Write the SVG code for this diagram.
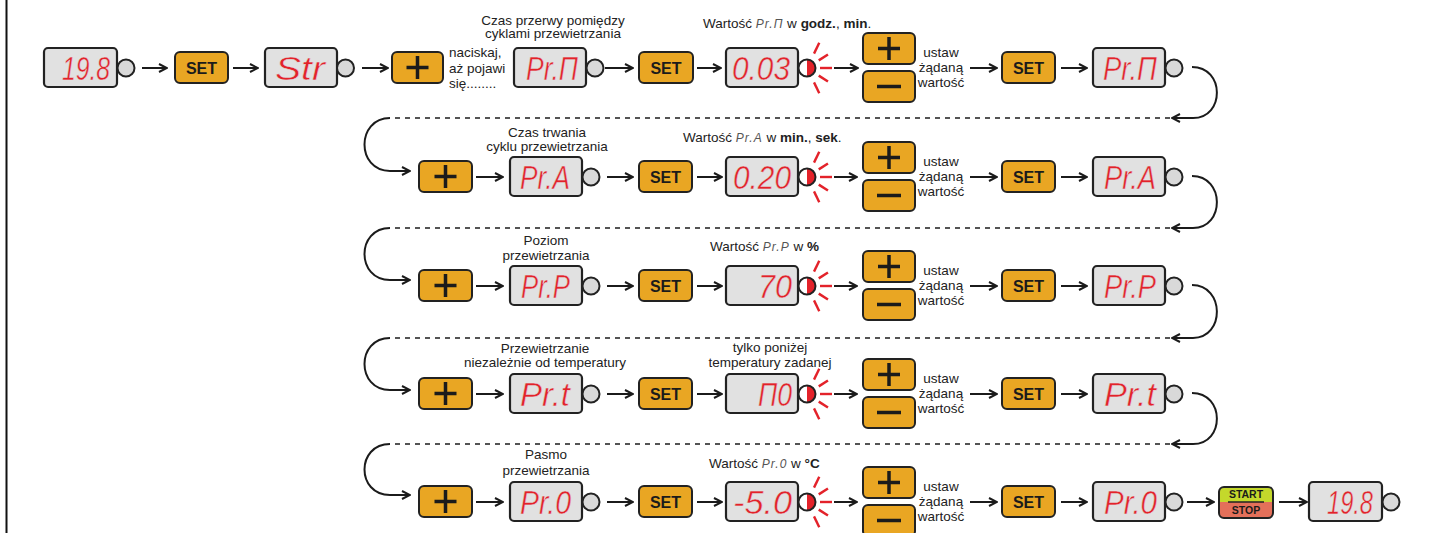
<svg xmlns="http://www.w3.org/2000/svg" xmlns:xlink="http://www.w3.org/1999/xlink" width="1430" height="533" viewBox="0 0 1430 533">
<style>
.disp{fill:#e1e1e1;stroke:#222;stroke-width:2.2}
.dot{fill:#d9d9d9;stroke:#222;stroke-width:2}
.btn{fill:#e9a623;stroke:#222;stroke-width:2}
.seg{font-family:"Liberation Sans",Arial,sans-serif;font-style:italic;font-size:34px;fill:#e3222a;stroke:#e1e1e1;stroke-width:0.5}
.set{font-family:"Liberation Sans",Arial,sans-serif;font-weight:bold;font-size:16px;fill:#1b1b1b;text-anchor:middle}
.lbl{font-family:"Liberation Sans",Arial,sans-serif;font-size:13.5px;fill:#222}
.mid{text-anchor:middle}
.ls{font-style:italic;fill:#555;font-size:12px;letter-spacing:1px}
.b{font-weight:bold}
.sym{stroke:#1b1b1b;stroke-width:3.5;fill:none}
.con{stroke:#1b1b1b;stroke-width:2;fill:none;marker-end:url(#ah)}
.dash{stroke:#1b1b1b;stroke-width:1.5;stroke-dasharray:5 5;fill:none}
.ray{stroke:#e3222a;stroke-width:2.4}
.ss{font-family:"Liberation Sans",Arial,sans-serif;font-weight:bold;font-size:10.5px;fill:#1b1b1b;text-anchor:middle}
</style>
<defs>
<marker id="ah" markerWidth="10" markerHeight="10" refX="9" refY="5" orient="auto" markerUnits="userSpaceOnUse">
<path d="M1,1 L9,5 L1,9" fill="none" stroke="#1b1b1b" stroke-width="2"/>
</marker>
<g id="led">
<circle r="8.5" fill="#fff"/>
<path d="M0,-8.5 A8.5,8.5 0 0 1 0,8.5 Z" fill="#e3222a"/>
<circle r="8.5" fill="none" stroke="#222" stroke-width="2"/>
<line class="ray" x1="13" y1="0" x2="25" y2="0"/>
<line class="ray" x1="14" y1="0" x2="25" y2="0" transform="rotate(-33)"/>
<line class="ray" x1="14" y1="0" x2="25" y2="0" transform="rotate(33)"/>
<line class="ray" x1="16" y1="0" x2="28" y2="0" transform="rotate(-64)"/>
<line class="ray" x1="16" y1="0" x2="28" y2="0" transform="rotate(64)"/>
</g>
<g id="plus"><path class="sym" d="M-11,0 H11 M0,-11.5 V11.5"/></g>
<g id="minus"><path class="sym" d="M-12,0 H12" stroke-width="4"/></g>
</defs>

<line x1="6.5" y1="0" x2="6.5" y2="533" stroke="#111" stroke-width="2"/>

<g id="connectors">
<line class="con" x1="142" y1="68" x2="167" y2="68"/>
<line class="con" x1="233" y1="68" x2="258" y2="68"/>
<line class="con" x1="362" y1="68" x2="388" y2="68"/>
<line class="con" x1="605" y1="68" x2="633" y2="68"/>
<line class="con" x1="697" y1="68" x2="721" y2="68"/>
<line class="con" x1="834" y1="68" x2="858" y2="68"/>
<line class="con" x1="970" y1="68" x2="997" y2="68"/>
<line class="con" x1="1061" y1="68" x2="1087" y2="68"/>
<path class="con" d="M1192,67 C1225,67 1225,118 1193,118 L1172,118"/>
<line class="dash" x1="1170" y1="118" x2="390" y2="118"/>
<path class="con" d="M390,118 C356,118 356,171 390,171 L410,171"/>
<line class="con" x1="476" y1="177" x2="503" y2="177"/>
<line class="con" x1="607" y1="177" x2="633" y2="177"/>
<line class="con" x1="697" y1="177" x2="722" y2="177"/>
<line class="con" x1="834" y1="177" x2="857" y2="177"/>
<line class="con" x1="970" y1="177" x2="997" y2="177"/>
<line class="con" x1="1061" y1="177" x2="1087" y2="177"/>
<path class="con" d="M1192,176 C1225,176 1225,228 1193,228 L1172,228"/>
<line class="dash" x1="1170" y1="228" x2="390" y2="228"/>
<path class="con" d="M390,228 C356,228 356,280 390,280 L410,280"/>
<line class="con" x1="476" y1="286" x2="503" y2="286"/>
<line class="con" x1="607" y1="286" x2="633" y2="286"/>
<line class="con" x1="697" y1="286" x2="722" y2="286"/>
<line class="con" x1="834" y1="286" x2="857" y2="286"/>
<line class="con" x1="970" y1="286" x2="997" y2="286"/>
<line class="con" x1="1061" y1="286" x2="1087" y2="286"/>
<path class="con" d="M1192,285 C1225,285 1225,338 1193,338 L1172,338"/>
<line class="dash" x1="1170" y1="338" x2="390" y2="338"/>
<path class="con" d="M390,338 C356,338 356,390 390,390 L410,390"/>
<line class="con" x1="476" y1="394" x2="503" y2="394" stroke-width="2.8"/>
<line class="con" x1="607" y1="394" x2="633" y2="394"/>
<line class="con" x1="697" y1="394" x2="722" y2="394"/>
<line class="con" x1="834" y1="394" x2="857" y2="394"/>
<line class="con" x1="970" y1="394" x2="997" y2="394"/>
<line class="con" x1="1061" y1="394" x2="1087" y2="394"/>
<path class="con" d="M1192,393 C1225,393 1225,444 1193,444 L1172,444"/>
<line class="dash" x1="1170" y1="444" x2="390" y2="444"/>
<path class="con" d="M390,444 C356,444 356,495 390,495 L410,495"/>
<line class="con" x1="476" y1="502" x2="503" y2="502"/>
<line class="con" x1="607" y1="502" x2="633" y2="502"/>
<line class="con" x1="697" y1="502" x2="722" y2="502"/>
<line class="con" x1="834" y1="502" x2="857" y2="502"/>
<line class="con" x1="970" y1="502" x2="997" y2="502"/>
<line class="con" x1="1061" y1="502" x2="1087" y2="502"/>
<line class="con" x1="1187" y1="502" x2="1214" y2="502"/>
<line class="con" x1="1279" y1="502" x2="1307" y2="502"/>
</g>

<!-- ROW 1 -->
<g id="r1-disp1"><rect class="disp" x="44" y="48" width="73" height="39" rx="4"/><text class="seg" x="62" y="80" textLength="48" lengthAdjust="spacingAndGlyphs">19.8</text><circle class="dot" cx="126" cy="68" r="8.5"/></g>
<g id="r1-set1"><rect class="btn" x="175" y="52" width="53" height="31" rx="5"/><text class="set" x="201.5" y="73.5">SET</text></g>
<g id="r1-str"><rect class="disp" x="265" y="48" width="72" height="39" rx="4"/><text class="seg" x="275" y="80" textLength="50" lengthAdjust="spacingAndGlyphs">Str</text><circle class="dot" cx="345.5" cy="68" r="8.5"/></g>
<g id="r1-plus"><rect class="btn" x="392" y="52" width="51" height="31" rx="5"/><use xlink:href="#plus" x="417.5" y="67.5"/></g>
<g id="r1-note"><text class="lbl" x="449" y="57">naciskaj,</text><text class="lbl" x="449" y="73">aż pojawi</text><text class="lbl" x="449" y="88">się........</text></g>
<g id="r1-prn"><text class="lbl mid" x="553" y="25">Czas przerwy pomiędzy</text><text class="lbl mid" x="553" y="38">cyklami przewietrzania</text><rect class="disp" x="514" y="48" width="72" height="39" rx="4"/><text class="seg" x="526" y="80" textLength="52" lengthAdjust="spacingAndGlyphs">Pr.П</text><circle class="dot" cx="595" cy="68" r="8.5"/></g>
<g id="r1-set2"><rect class="btn" x="639" y="52" width="54" height="31" rx="5"/><text class="set" x="666" y="73.5">SET</text></g>
<g id="r1-val"><text class="lbl" x="703" y="28">Wartość <tspan class="ls">Pr.П</tspan> w <tspan class="b">godz.</tspan>, <tspan class="b">min</tspan>.</text><rect class="disp" x="726" y="48" width="72" height="39" rx="4"/><text class="seg" x="732" y="80" textLength="58" lengthAdjust="spacingAndGlyphs">0.03</text><use xlink:href="#led" x="807" y="68"/></g>
<g id="r1-pm"><rect class="btn" x="863" y="33" width="52" height="31" rx="5"/><use xlink:href="#plus" x="889" y="48.5"/><rect class="btn" x="863" y="71" width="52" height="31" rx="5"/><use xlink:href="#minus" x="889" y="86.5"/><text class="lbl mid" x="941" y="57">ustaw</text><text class="lbl mid" x="941" y="72">żądaną</text><text class="lbl mid" x="941" y="87">wartość</text></g>
<g id="r1-set3"><rect class="btn" x="1002" y="52" width="53" height="31" rx="5"/><text class="set" x="1028.5" y="73.5">SET</text></g>
<g id="r1-end"><rect class="disp" x="1093" y="48" width="72" height="39" rx="4"/><text class="seg" x="1103" y="80" textLength="54" lengthAdjust="spacingAndGlyphs">Pr.П</text><circle class="dot" cx="1174" cy="68" r="8.5"/></g>

<!-- ROW 2 -->
<g id="r2-plus"><rect class="btn" x="419" y="161" width="53" height="31" rx="5"/><use xlink:href="#plus" x="445.5" y="176.5"/></g>
<g id="r2-pra"><text class="lbl mid" x="547" y="137">Czas trwania</text><text class="lbl mid" x="547" y="151">cyklu przewietrzania</text><rect class="disp" x="510" y="157" width="72" height="39" rx="4"/><text class="seg" x="520" y="189" textLength="50" lengthAdjust="spacingAndGlyphs">Pr.A</text><circle class="dot" cx="591" cy="177" r="8.5"/></g>
<g id="r2-set1"><rect class="btn" x="639" y="161" width="53" height="31" rx="5"/><text class="set" x="665.5" y="182.5">SET</text></g>
<g id="r2-val"><text class="lbl" x="683" y="142">Wartość <tspan class="ls">Pr.A</tspan> w <tspan class="b">min.</tspan>, <tspan class="b">sek</tspan>.</text><rect class="disp" x="726" y="157" width="72" height="39" rx="4"/><text class="seg" x="733" y="189" textLength="58" lengthAdjust="spacingAndGlyphs">0.20</text><use xlink:href="#led" x="807" y="177"/></g>
<g id="r2-pm"><rect class="btn" x="863" y="142" width="52" height="31" rx="5"/><use xlink:href="#plus" x="889" y="157.5"/><rect class="btn" x="863" y="180" width="52" height="31" rx="5"/><use xlink:href="#minus" x="889" y="195.5"/><text class="lbl mid" x="941" y="166">ustaw</text><text class="lbl mid" x="941" y="181">żądaną</text><text class="lbl mid" x="941" y="196">wartość</text></g>
<g id="r2-set2"><rect class="btn" x="1002" y="161" width="53" height="31" rx="5"/><text class="set" x="1028.5" y="182.5">SET</text></g>
<g id="r2-end"><rect class="disp" x="1093" y="157" width="72" height="39" rx="4"/><text class="seg" x="1104" y="189" textLength="52" lengthAdjust="spacingAndGlyphs">Pr.A</text><circle class="dot" cx="1174" cy="177" r="8.5"/></g>

<!-- ROW 3 -->
<g id="r3-plus"><rect class="btn" x="419" y="270" width="53" height="31" rx="5"/><use xlink:href="#plus" x="445.5" y="285.5"/></g>
<g id="r3-prp"><text class="lbl mid" x="546" y="245">Poziom</text><text class="lbl mid" x="546" y="260">przewietrzania</text><rect class="disp" x="510" y="266" width="72" height="39" rx="4"/><text class="seg" x="521" y="298" textLength="49" lengthAdjust="spacingAndGlyphs">Pr.P</text><circle class="dot" cx="591" cy="286" r="8.5"/></g>
<g id="r3-set1"><rect class="btn" x="639" y="270" width="53" height="31" rx="5"/><text class="set" x="665.5" y="291.5">SET</text></g>
<g id="r3-val"><text class="lbl" x="710" y="251">Wartość <tspan class="ls">Pr.P</tspan> w <tspan class="b">%</tspan></text><rect class="disp" x="726" y="266" width="72" height="39" rx="4"/><text class="seg" x="758" y="298" textLength="34" lengthAdjust="spacingAndGlyphs">70</text><use xlink:href="#led" x="807" y="286"/></g>
<g id="r3-pm"><rect class="btn" x="863" y="251" width="52" height="31" rx="5"/><use xlink:href="#plus" x="889" y="266.5"/><rect class="btn" x="863" y="289" width="52" height="31" rx="5"/><use xlink:href="#minus" x="889" y="304.5"/><text class="lbl mid" x="941" y="275">ustaw</text><text class="lbl mid" x="941" y="290">żądaną</text><text class="lbl mid" x="941" y="305">wartość</text></g>
<g id="r3-set2"><rect class="btn" x="1002" y="270" width="53" height="31" rx="5"/><text class="set" x="1028.5" y="291.5">SET</text></g>
<g id="r3-end"><rect class="disp" x="1093" y="266" width="72" height="39" rx="4"/><text class="seg" x="1104" y="298" textLength="52" lengthAdjust="spacingAndGlyphs">Pr.P</text><circle class="dot" cx="1174" cy="286" r="8.5"/></g>

<!-- ROW 4 -->
<g id="r4-plus"><rect class="btn" x="419" y="378" width="53" height="31" rx="5"/><use xlink:href="#plus" x="445.5" y="393.5"/></g>
<g id="r4-prt"><text class="lbl mid" x="545" y="353">Przewietrzanie</text><text class="lbl mid" x="545" y="367">niezależnie od temperatury</text><rect class="disp" x="510" y="374" width="72" height="39" rx="4"/><text class="seg" x="520" y="406" textLength="50" lengthAdjust="spacingAndGlyphs">Pr.t</text><circle class="dot" cx="591" cy="394" r="8.5"/></g>
<g id="r4-set1"><rect class="btn" x="639" y="378" width="53" height="31" rx="5"/><text class="set" x="665.5" y="399.5">SET</text></g>
<g id="r4-val"><text class="lbl mid" x="770" y="352">tylko poniżej</text><text class="lbl mid" x="770" y="367">temperatury zadanej</text><rect class="disp" x="726" y="374" width="72" height="39" rx="4"/><text class="seg" x="758" y="406" textLength="34" lengthAdjust="spacingAndGlyphs">П0</text><use xlink:href="#led" x="807" y="394"/></g>
<g id="r4-pm"><rect class="btn" x="863" y="359" width="52" height="31" rx="5"/><use xlink:href="#plus" x="889" y="374.5"/><rect class="btn" x="863" y="397" width="52" height="31" rx="5"/><use xlink:href="#minus" x="889" y="412.5"/><text class="lbl mid" x="941" y="383">ustaw</text><text class="lbl mid" x="941" y="398">żądaną</text><text class="lbl mid" x="941" y="413">wartość</text></g>
<g id="r4-set2"><rect class="btn" x="1002" y="378" width="53" height="31" rx="5"/><text class="set" x="1028.5" y="399.5">SET</text></g>
<g id="r4-end"><rect class="disp" x="1093" y="374" width="72" height="39" rx="4"/><text class="seg" x="1104" y="406" textLength="52" lengthAdjust="spacingAndGlyphs">Pr.t</text><circle class="dot" cx="1174" cy="394" r="8.5"/></g>

<!-- ROW 5 -->
<g id="r5-plus"><rect class="btn" x="419" y="486" width="53" height="31" rx="5"/><use xlink:href="#plus" x="445.5" y="501.5"/></g>
<g id="r5-pr0"><text class="lbl mid" x="546" y="459">Pasmo</text><text class="lbl mid" x="546" y="475">przewietrzania</text><rect class="disp" x="510" y="482" width="72" height="39" rx="4"/><text class="seg" x="520" y="514" textLength="51" lengthAdjust="spacingAndGlyphs">Pr.0</text><circle class="dot" cx="591" cy="502" r="8.5"/></g>
<g id="r5-set1"><rect class="btn" x="639" y="486" width="53" height="31" rx="5"/><text class="set" x="665.5" y="507.5">SET</text></g>
<g id="r5-val"><text class="lbl" x="709" y="468">Wartość <tspan class="ls">Pr.0</tspan> w <tspan class="b">°C</tspan></text><rect class="disp" x="726" y="482" width="72" height="39" rx="4"/><text class="seg" x="733" y="514" textLength="59" lengthAdjust="spacingAndGlyphs">-5.0</text><use xlink:href="#led" x="807" y="502"/></g>
<g id="r5-pm"><rect class="btn" x="863" y="467" width="52" height="31" rx="5"/><use xlink:href="#plus" x="889" y="482.5"/><rect class="btn" x="863" y="505" width="52" height="31" rx="5"/><use xlink:href="#minus" x="889" y="520.5"/><text class="lbl mid" x="941" y="491">ustaw</text><text class="lbl mid" x="941" y="506">żądaną</text><text class="lbl mid" x="941" y="521">wartość</text></g>
<g id="r5-set2"><rect class="btn" x="1002" y="486" width="53" height="31" rx="5"/><text class="set" x="1028.5" y="507.5">SET</text></g>
<g id="r5-end"><rect class="disp" x="1093" y="482" width="72" height="39" rx="4"/><text class="seg" x="1104" y="514" textLength="53" lengthAdjust="spacingAndGlyphs">Pr.0</text><circle class="dot" cx="1174" cy="502" r="8.5"/></g>
<g id="r5-startstop">
<rect x="1219" y="487" width="54" height="31" rx="5" fill="#c4d82b"/>
<path d="M1219,502 H1273 V513 Q1273,518 1268,518 H1224 Q1219,518 1219,513 Z" fill="#e4705a"/>
<rect x="1219" y="487" width="54" height="31" rx="5" fill="none" stroke="#222" stroke-width="2"/>
<line x1="1228" y1="502" x2="1264" y2="502" stroke="#222" stroke-width="1.5"/>
<text class="ss" x="1246" y="498">START</text>
<text class="ss" x="1246" y="514">STOP</text>
</g>
<g id="r5-final"><rect class="disp" x="1309" y="482" width="73" height="39" rx="4"/><text class="seg" x="1327" y="514" textLength="46" lengthAdjust="spacingAndGlyphs">19.8</text><circle class="dot" cx="1391" cy="502" r="8.5"/></g>
</svg>
